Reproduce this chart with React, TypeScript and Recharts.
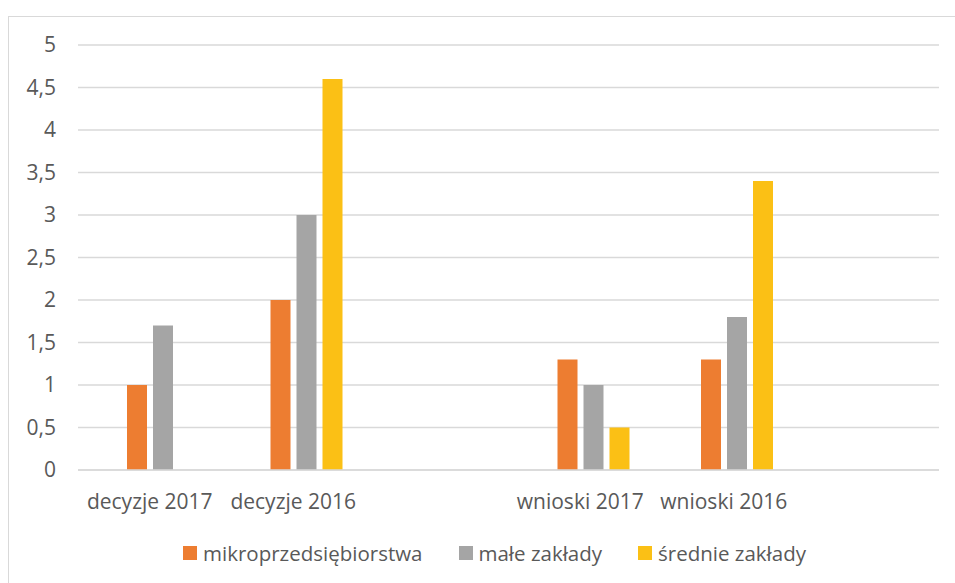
import React from 'react';
import { BarChart, Bar, XAxis, YAxis, CartesianGrid, Legend } from 'recharts';

const categories = ['decyzje 2017', 'decyzje 2016', '', 'wnioski 2017', 'wnioski 2016', ''];
const mikro = [1, 2, null, 1.3, 1.3, null];
const male = [1.7, 3, null, 1.0, 1.8, null];
const srednie = [null, 4.6, null, 0.5, 3.4, null];
// the original chart has an empty first series that only takes up space
const pusta = [null, null, null, null, null, null];
const seriesNames = ['mikroprzedsiębiorstwa', 'małe zakłady', 'średnie zakłady'];
const yTicks = [0, 0.5, 1, 1.5, 2, 2.5, 3, 3.5, 4, 4.5, 5];

const data = categories.map((name, i) => ({
  name,
  pusta: pusta[i],
  mikro: mikro[i],
  male: male[i],
  srednie: srednie[i],
}));

const FONT = '"Open Sans", "Liberation Sans", sans-serif';
const TEXT = '#595959';
const GRID = '#d9d9d9';

const LegendBox = (props: any) => {
  const items = (props.payload || [])
    .filter((p: any) => p.type !== 'none')
    .sort((a: any, b: any) => seriesNames.indexOf(a.value) - seriesNames.indexOf(b.value));
  return (
    <div
      style={{
        display: 'flex',
        justifyContent: 'center',
        paddingLeft: 22,
        fontFamily: FONT,
        fontSize: 20.5,
        color: TEXT,
        lineHeight: '26px',
      }}
    >
      {items.map((p: any) => (
        <div key={p.value} style={{ display: 'flex', alignItems: 'center', margin: '0 18px' }}>
          <span style={{ width: 14, height: 14, background: p.color, display: 'inline-block', marginRight: 6 }} />
          <span>{p.value}</span>
        </div>
      ))}
    </div>
  );
};

export default function App() {
  return (
    <div
      style={{
        position: 'absolute',
        left: 8,
        top: 16,
        width: 947,
        height: 567,
        borderTop: `1.5px solid ${GRID}`,
        borderLeft: `1.5px solid ${GRID}`,
        boxSizing: 'border-box',
        overflow: 'hidden',
        background: '#fff',
      }}
    >
      <BarChart
        width={945}
        height={565}
        data={data}
        margin={{ top: 28, right: 15, left: 19, bottom: 56 }}
        barSize={20}
        barGap={6}
      >
        <CartesianGrid vertical={false} stroke={GRID} strokeWidth={1.5} />
        <XAxis
          dataKey="name"
          height={30}
          tickLine={false}
          axisLine={{ stroke: GRID, strokeWidth: 1.5 }}
          tick={{ fill: TEXT, fontSize: 21, fontFamily: FONT }}
          tickMargin={18}
          interval={0}
        />
        <YAxis
          width={50}
          domain={[0, 5]}
          ticks={yTicks}
          axisLine={false}
          tickLine={false}
          tickSize={0}
          tickMargin={22}
          tick={{ fill: TEXT, fontSize: 21, fontFamily: FONT }}
          tickFormatter={(v: number) => String(v).replace('.', ',')}
        />
        <Legend verticalAlign="bottom" content={LegendBox} wrapperStyle={{ bottom: 16 }} />
        <Bar dataKey="pusta" name="" fill="transparent" legendType="none" isAnimationActive={false} />
        <Bar dataKey="mikro" name={seriesNames[0]} fill="#ED7D31" isAnimationActive={false} />
        <Bar dataKey="male" name={seriesNames[1]} fill="#A5A5A5" isAnimationActive={false} />
        <Bar dataKey="srednie" name={seriesNames[2]} fill="#FBC015" isAnimationActive={false} />
      </BarChart>
    </div>
  );
}
